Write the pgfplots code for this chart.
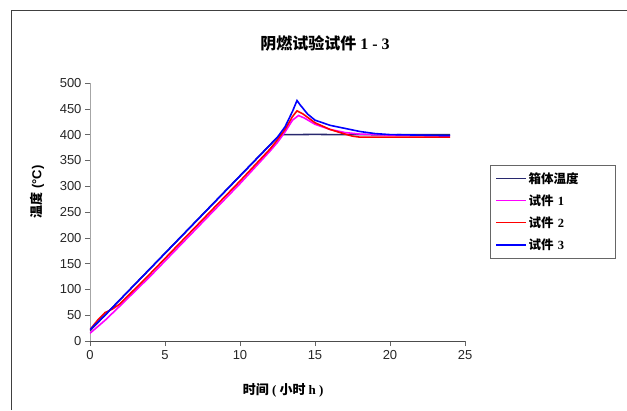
\documentclass[border=0pt]{standalone}
\usepackage{fontspec}
\setmainfont{Liberation Serif}
\setsansfont{Liberation Sans}
\newfontfamily\cjk{Noto Sans CJK SC}
\usepackage{pgfplots}
\pgfplotsset{compat=1.18}

\definecolor{boxcol}{RGB}{40,40,110}
\definecolor{mag}{RGB}{255,0,255}
\definecolor{redc}{RGB}{255,0,0}
\definecolor{bluec}{RGB}{0,0,255}

\begin{document}
\begin{tikzpicture}
% page size and outer frame (top and left edges only)
\path[use as bounding box] (-90pt,-69pt) rectangle (537pt,341pt);
\draw[black!75, line width=0.9pt] (-79pt,-69pt) -- (-79pt,331pt) -- (537pt,331pt);

\begin{axis}[
    scale only axis,
    width=375pt, height=258pt,
    xmin=0, xmax=25, ymin=0, ymax=500,
    xtick distance=5, ytick distance=50,
    axis x line*=bottom, axis y line*=left,
    x axis line style={black!70, line width=0.8pt, -},
    y axis line style={black!35, line width=0.8pt, -},
    tick align=outside, major tick length=5pt,
    every tick/.style={black!60, line width=0.6pt},
    tick label style={font=\sffamily\fontsize{13}{13}\selectfont, black!85},
    /pgf/number format/assume math mode=true,
    xticklabel style={yshift=-1pt},
    xlabel={\bfseries\cjk 时间\rmfamily\bfseries{} ( \cjk 小时 \rmfamily\bfseries h )},
    xlabel style={at={(axis description cs:0.515,-0.19)}, anchor=center, font=\fontsize{13}{13}\selectfont},
    ylabel={\cjk\bfseries 温度\sffamily\bfseries{} (°C)},
    ylabel style={at={(axis description cs:-0.141,0.578)}, anchor=center, rotate=0, font=\fontsize{13}{13}\selectfont},
    legend style={at={(axis description cs:1.067,0.682)}, anchor=north west,
        draw=black!60, line width=0.6pt, font=\fontsize{12.5}{14}\selectfont,
        row sep=6pt, inner xsep=5pt, inner ysep=5pt, legend cell align=left,
        text width=80pt},
    legend image code/.code={\draw[#1, line width=1.2pt] (0pt,0pt) -- (30pt,0pt);},
]

% box temperature
\addplot[draw=boxcol, line width=1.6pt] coordinates {
    (0,20) (2,80) (4,140) (6,200) (8,260) (10,320) (12,380) (12.67,400)
    (14,400) (15,400.5) (16,400) (18,400) (20,399.5) (22,400) (24,400)
};
\addlegendentry{\cjk\bfseries 箱体温度}

% specimen 1
\addplot[draw=mag, line width=1.6pt] coordinates {
    (0,15) (1,40) (2,68) (4,125) (6,185) (8,245) (10,305) (12,368)
    (12.5,385) (13,405) (13.5,428) (13.9,437) (14.3,432) (15,420) (16,410)
    (17,404) (18,401) (19,400) (20,399) (22,398) (24,397)
};
\addlegendentry{\cjk\bfseries 试件\rmfamily\bfseries{} 1}

% specimen 2
\addplot[draw=redc, line width=1.6pt] coordinates {
    (0,22) (0.5,40) (1,55) (1.5,62) (2,72) (4,130) (6,190) (8,250)
    (10,310) (12,372) (12.5,390) (13,410) (13.5,435) (13.8,446) (14.2,440)
    (15,423) (16,410) (17,401) (17.5,397) (18,395) (20,395) (22,395) (24,395)
};
\addlegendentry{\cjk\bfseries 试件\rmfamily\bfseries{} 2}

% specimen 3
\addplot[draw=bluec, line width=1.6pt] coordinates {
    (0,22) (1,50) (2,80) (4,140) (6,200) (8,260) (10,320) (12,380)
    (12.5,395) (13,415) (13.5,445) (13.8,466) (14,458) (14.5,440) (15,428)
    (16,418) (17,412) (18,406) (19,402) (20,400) (22,399) (24,398)
};
\addlegendentry{\cjk\bfseries 试件\rmfamily\bfseries{} 3}

\end{axis}

\node[font=\fontsize{16}{16}\selectfont] at (235pt,298pt)
    {\cjk\bfseries 阴燃试验试件\rmfamily\bfseries{} 1 - 3};
\end{tikzpicture}
\end{document}
